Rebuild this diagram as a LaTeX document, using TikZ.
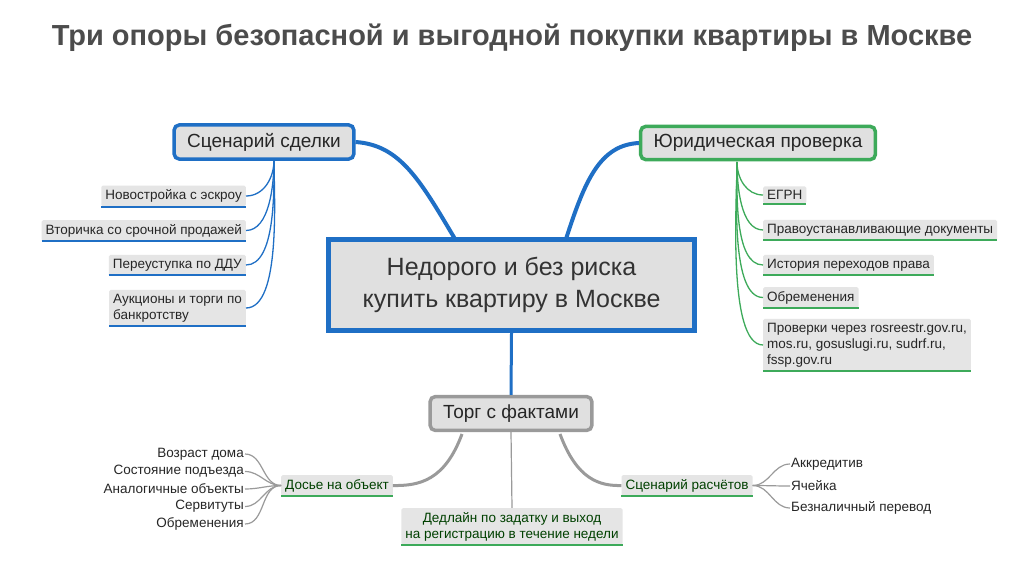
\documentclass[tikz,border=0pt]{standalone}
\usepackage{fontspec}
\setmainfont{Liberation Sans}
\begin{document}
\begin{tikzpicture}[x=1pt,y=-1pt,
  leafL/.style={fill=black!10,rounded corners=1.5pt,inner sep=4pt,font=\fontsize{13.5}{16}\selectfont,text=black!85,align=left},
  leafR/.style={fill=black!10,rounded corners=1.5pt,inner sep=4pt,font=\fontsize{13.5}{16}\selectfont,text=black!85,align=left},
  branch/.style={rounded corners=5pt,fill=black!12,line width=3.5pt,font=\fontsize{19}{22}\selectfont,text=black!85,inner xsep=13pt,inner ysep=8pt},
  sub/.style={fill=black!10,rounded corners=1.5pt,inner sep=4pt,font=\fontsize{13.5}{16}\selectfont,text=green!25!black,align=center},
  txt/.style={inner sep=1pt,font=\fontsize{13.5}{16}\selectfont,text=black!85}]
\definecolor{cblue}{HTML}{1F6FC5}
\definecolor{cgreen}{HTML}{3DAA5A}
\definecolor{cgray}{HTML}{9A9A9A}
\useasboundingbox (0,0) rectangle (1024,572);
\fill[white] (0,0) rectangle (1024,572);
\node[font=\bfseries\fontsize{29}{32}\selectfont,text=black!70] (title) at (512,38) {Три опоры безопасной и выгодной покупки квартиры в Москве};
% center
\node[draw=cblue,line width=5pt,fill=black!12,minimum width=366pt,minimum height=91pt,align=center,font=\fontsize{25}{32}\selectfont,text=black!80] (c) at (511.5,285) {Недорого и без риска\\купить квартиру в Москве};
\node[branch,draw=cblue] (s) at (264,142) {Сценарий сделки};
\node[branch,draw=cgreen] (j) at (758,143) {Юридическая проверка};
\node[branch,draw=cgray] (t) at (511,413.5) {Торг с фактами};
% main links
\draw[cblue,line width=4pt] (455,239) .. controls (420,180) and (400,145) .. (s.east);
\draw[cblue,line width=4pt] (566,239) .. controls (585,180) and (600,145) .. (j.west);
\draw[cblue,line width=3pt] (c.south) -- (t.north);
% left leaves
\node[leafL,anchor=east] (l1) at (246,196) {Новостройка с эскроу};
\node[leafL,anchor=east] (l2) at (246,230.5) {Вторичка со срочной продажей};
\node[leafL,anchor=east] (l3) at (246,265) {Переуступка по ДДУ};
\node[leafL,anchor=east] (l4) at (246,308) {Аукционы и торги по\\банкротству};
\coordinate (sj) at (274,160);
\coordinate (jj) at (737,162);
\foreach \n/\l in {l1/1,l2/0.8,l3/0.7,l4/0.6}{
  \draw[cblue,line width=1.8pt] (\n.south west) -- (\n.south east);
  \draw[cblue,line width=1.3pt] (sj) to[out=-90,in=0,looseness=\l] (\n.east);
}
% right leaves
\node[leafR,anchor=west] (r1) at (763,195) {ЕГРН};
\node[leafR,anchor=west] (r2) at (763,230) {Правоустанавливающие документы};
\node[leafR,anchor=west] (r3) at (763,265) {История переходов права};
\node[leafR,anchor=west] (r4) at (763,297.5) {Обременения};
\node[leafR,anchor=west] (r5) at (763,345) {Проверки через rosreestr.gov.ru,\\mos.ru, gosuslugi.ru, sudrf.ru,\\fssp.gov.ru};
\foreach \n/\l in {r1/1,r2/0.8,r3/0.7,r4/0.6,r5/0.5}{
  \draw[cgreen,line width=1.8pt] (\n.south west) -- (\n.south east);
  \draw[cgreen,line width=1.3pt] (jj) to[out=-90,in=180,looseness=\l] (\n.west);
}
% bottom
\node[sub] (d) at (337,485.5) {Досье на объект};
\node[sub] (p) at (687,485.5) {Сценарий расчётов};
\node[sub] (dl) at (512,526.5) {Дедлайн по задатку и выход\\на регистрацию в течение недели};
\foreach \n in {d,p,dl} \draw[cgreen,line width=1.8pt] (\n.south west) -- (\n.south east);
\draw[cgray,line width=3pt] (462,434) .. controls (445,480) and (420,486) .. (d.east);
\draw[cgray,line width=3pt] (560,434) .. controls (577,480) and (600,486) .. (p.west);
\draw[cgray,line width=1.2pt] (t.south) -- (dl.north);
\foreach \n/\y/\s in {a1/454/Возраст дома,a2/471.5/Состояние подъезда,a3/489/Аналогичные объекты,a4/506.5/Сервитуты,a5/524/Обременения}{
  \node[txt,anchor=east] (\n) at (245,\y) {\s};
  \draw[cgray,line width=1.2pt] (d.west) to[out=180,in=0] (\n.east);
}
\foreach \n/\y/\s in {b1/464/Аккредитив,b2/486/Ячейка,b3/508/Безналичный перевод}{
  \node[txt,anchor=west] (\n) at (790,\y) {\s};
  \draw[cgray,line width=1.2pt] (p.east) to[out=0,in=180] (\n.west);
}
\end{tikzpicture}
\end{document}
